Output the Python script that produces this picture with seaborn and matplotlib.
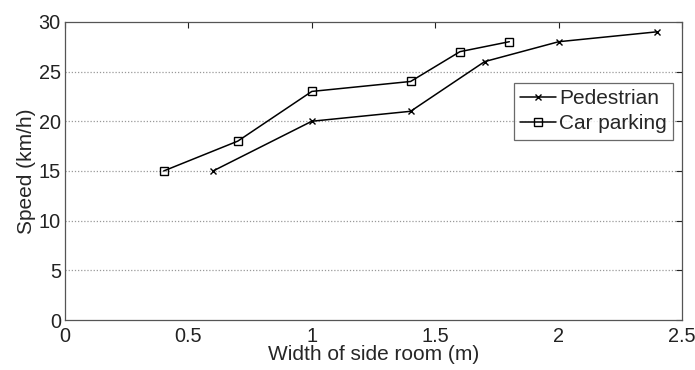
import matplotlib
matplotlib.use("Agg")
import matplotlib.pyplot as plt
import seaborn as sns
import pandas as pd

ped_x = [0.6, 1.0, 1.4, 1.7, 2.0, 2.4]
ped_y = [15, 20, 21, 26, 28, 29]
car_x = [0.4, 0.7, 1.0, 1.4, 1.6, 1.8]
car_y = [15, 18, 23, 24, 27, 28]
series = ["Pedestrian", "Car parking"]
x_ticks = [0, 0.5, 1, 1.5, 2, 2.5]
x_labels = ["0", "0.5", "1", "1.5", "2", "2.5"]
y_ticks = [0, 5, 10, 15, 20, 25, 30]

sns.set_style("white")
plt.rcParams['font.family'] = ['Liberation Sans', 'DejaVu Sans']
FS = 15
TFS = 14.3

fig = plt.figure(figsize=(6.95, 3.7), dpi=100)
ax = fig.add_axes([0.0935, 0.135, 0.888, 0.806])

for y in y_ticks[1:-1]:
    ax.axhline(y, color="#999999", lw=0.9, ls=(0, (1, 1.5)), zorder=0)

sns.lineplot(x=ped_x, y=ped_y, label=series[0], color="black", marker="x",
             markersize=5, markeredgewidth=1.0, markeredgecolor="black",
             linewidth=1.1, ax=ax, sort=False)
sns.lineplot(x=car_x, y=car_y, label=series[1], color="black", marker="s",
             markersize=5.5, markeredgewidth=1.0, markerfacecolor="none",
             markeredgecolor="black", linewidth=1.1, ax=ax, sort=False)

ax.set_xlim(0, 2.5)
ax.set_ylim(0, 30)
ax.set_xticks(x_ticks)
ax.set_xticklabels(x_labels)
ax.set_yticks(y_ticks)
ax.tick_params(direction="in", length=4, width=0.8, top=True, right=True,
               labelsize=TFS, colors="#222222")
ax.tick_params(axis="x", pad=5)
ax.tick_params(axis="y", pad=3)
for sp in ax.spines.values():
    sp.set_color("#555555")
    sp.set_linewidth(0.9)
ax.set_xlabel("Width of side room (m)", fontsize=FS, labelpad=-1)
ax.set_ylabel("Speed (km/h)", fontsize=FS, labelpad=2)

handles, labels = ax.get_legend_handles_labels()
leg = ax.legend(handles, labels, loc="upper right", bbox_to_anchor=(0.985, 0.795),
                fontsize=FS, frameon=True, fancybox=False, handlelength=1.7,
                handletextpad=0.15, borderpad=0.3, labelspacing=0.3, borderaxespad=0)
leg.get_frame().set_edgecolor("#444444")
leg.get_frame().set_linewidth(0.9)

fig.savefig("out.png", dpi=100)
